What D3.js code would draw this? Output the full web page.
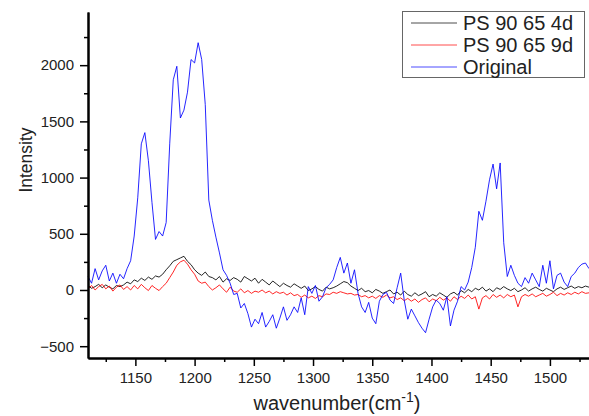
<!DOCTYPE html>
<html>
<head>
<meta charset="utf-8">
<script src="https://cdn.jsdelivr.net/npm/d3@7/dist/d3.min.js"></script>
<style>
  body { margin: 0; background: #fff; }
  text { font-family: "Liberation Sans", Arial, sans-serif; fill: #222; }
</style>
</head>
<body>
<div id="main"></div>
<script>
var outerWidth = 589;
var outerHeight = 416;

var marginLeft = 88;
var marginTop = 12;
var marginRight = 0;
var marginBottom = 58;

var innerWidth = outerWidth - marginLeft - marginRight;
var innerHeight = outerHeight - marginTop - marginBottom;

// wavenumber grid, 3 cm-1 apart
var wavenumbers = d3.range(1110, 1534, 3);

var seriesNames = ["PS 90 65 4d", "PS 90 65 9d", "Original"];
var seriesColors = ["#000000", "#ff0000", "#0000ff"];

var ps4d = [40, 15, 30, 50, 20, 45, 25, 10, 40, 30,
  45, 70, 55, 90, 75, 105, 85, 115, 95, 125,
  115, 140, 180, 215, 255, 270, 285, 300, 255, 225,
  180, 150, 130, 160, 120, 110, 90, 120, 70, 100,
  85, 110, 95, 70, 120, 100, 80, 105, 60, 95,
  70, 45, 80, 55, 30, 60, 40, 25, 55, 35,
  15, 35, -5, 10, 30, 5, -10, 25, 10, 20,
  35, 55, 75, 65, 35, 15, -5, 15, -15, -5,
  -25, 5, -10, -30, -15, 0, -35, -20, -45, -10,
  -40, -55, -25, -50, -35, -15, -60, -40, -55, -25,
  -45, -65, -35, -20, -45, -5, -25, 5, -15, 15,
  0, 25, -10, 10, -15, 20, 5, 30, 10, -5,
  15, -15, 0, 20, -10, 10, 25, 5, -10, 15,
  0, -15, 10, 25, 5, 20, 35, 15, 30, 20,
  35, 25];

var ps9d = [10, 40, 0, 30, 50, 10, 35, -10, 25, 45,
  5, 30, 0, 40, 10, 50, 20, -5, 40, 15,
  -5, 30, 60, 110, 160, 220, 250, 265, 230, 180,
  140, 80, 60, 70, 30, 0, 20, 45, 10, -20,
  25, -10, -20, 10, -25, -5, -30, -10, -20, 0,
  -25, -10, -35, -15, -30, -20, -45, -25, -50, -40,
  -65, -45, -70, -55, -75, -50, -60, -35, -40, -20,
  -30, -15, -25, -35, -30, -45, -40, -60, -50, -70,
  -55, -75, -50, -65, -45, -70, -60, -85, -70, -95,
  -75, -100, -80, -110, -85, -70, -105, -80, -95, -65,
  -90, -70, -100, -60, -85, -55, -75, -45, -80, -60,
  -170, -70, -50, -80, -40, -65, -45, -70, -40, -60,
  -45, -150, -60, -40, -55, -35, -60, -45, -30, -55,
  -40, -20, -50, -30, -45, -25, -40, -20, -35, -15,
  -30, -25];

var original = [120, 60, 190, 90, 170, 220, 80, 150, 60, 140,
  100, 190, 260, 480, 820, 1300, 1400, 1150, 780, 450,
  520, 480, 600, 1300, 1870, 1990, 1530, 1600, 1760, 2050,
  2020, 2200, 2050, 1650, 800, 620, 470, 330, 180, 130,
  60, -40, -30, -160, -120, -210, -330, -260, -300, -200,
  -330, -280, -220, -340, -250, -150, -270, -220, -150, -200,
  -70, -220, 30, -30, 40, -100, -60, 20, 50, 90,
  200, 290, 150, 240, 60, 180, -30, -150, -200, -110,
  -250, -300, -100, -40, -20, -90, -120, 20, 150, -90,
  -260, -170, -230, -290, -340, -380, -260, -150, -90, -120,
  -180, -60, -320, -180, -100, 30, 0, 70, 200, 380,
  700, 620, 790, 980, 1120, 900, 1130, 420, 120, 220,
  130, 60, 30, 110, 60, 150, 90, 30, 220, 60,
  260, 10, 130, 150, 70, 30, 120, 150, 200, 230,
  240, 190];

var allSeries = [ps4d, ps9d, original];

var yMajorTicks = [-500, 0, 500, 1000, 1500, 2000];
var yMinorTicks = [-250, 250, 750, 1250, 1750, 2250];
var xMajorTicks = [1150, 1200, 1250, 1300, 1350, 1400, 1450, 1500];
var xMinorTicks = [1125, 1175, 1225, 1275, 1325, 1375, 1425, 1475, 1525];

var xScale = d3.scaleLinear().domain([1110, 1533]).range([0, innerWidth]);
var yScale = d3.scaleLinear().domain([-605, 2473]).range([innerHeight, 0]);

var svg = d3.select("#main")
    .append("svg")
    .attr("width", outerWidth)
    .attr("height", outerHeight);

var g = svg.append("g")
    .attr("transform", "translate(" + marginLeft + "," + marginTop + ")");

var line = d3.line()
    .x((d, i) => xScale(wavenumbers[i]))
    .y(d => yScale(d));

allSeries.forEach(function(values, k) {
  g.append("path")
      .datum(values)
      .attr("fill", "none")
      .attr("stroke", seriesColors[k])
      .attr("stroke-width", 1)
      .attr("stroke-opacity", 0.85)
      .attr("d", line);
});

// minor ticks first, then major ticks with labels
g.append("g")
    .call(d3.axisLeft(yScale).tickValues(yMinorTicks).tickSize(4).tickSizeOuter(0).tickFormat(""));
var yAxisG = g.append("g")
    .call(d3.axisLeft(yScale).tickValues(yMajorTicks).tickSize(8).tickPadding(6)
      .tickSizeOuter(0).tickFormat(d3.format("d")));

var xBase = g.append("g").attr("transform", "translate(0," + innerHeight + ")");
xBase.append("g")
    .call(d3.axisBottom(xScale).tickValues(xMinorTicks).tickSize(4).tickSizeOuter(0).tickFormat(""));
var xAxisG = xBase.append("g")
    .call(d3.axisBottom(xScale).tickValues(xMajorTicks).tickSize(8).tickPadding(6)
      .tickSizeOuter(0).tickFormat(d3.format("d")));

svg.selectAll(".domain").attr("stroke", "#000").attr("stroke-width", 2);
svg.selectAll(".tick line").attr("stroke", "#000").attr("stroke-width", 1.5);
svg.selectAll(".tick text")
    .style("font-size", "15px")
    .style("font-family", '"Liberation Sans", Arial, sans-serif')
    .attr("fill", "#222");

// axis titles
var xTitle = svg.append("text")
    .attr("x", 337)
    .attr("y", 410)
    .attr("text-anchor", "middle")
    .style("font-size", "20px");
xTitle.append("tspan").text("wavenumber(cm");
xTitle.append("tspan").attr("dy", -8).style("font-size", "14px").text("-1");
xTitle.append("tspan").attr("dy", 8).text(")");

svg.append("text")
    .attr("transform", "translate(32,160) rotate(-90)")
    .attr("text-anchor", "middle")
    .style("font-size", "17.5px")
    .text("Intensity");

// legend
var legend = svg.append("g");
legend.append("rect")
    .attr("x", 402.5)
    .attr("y", 11.5)
    .attr("width", 182)
    .attr("height", 66)
    .attr("fill", "#fff")
    .attr("stroke", "#666")
    .attr("stroke-width", 1);

var legendRows = legend.selectAll(".row")
    .data(seriesNames)
    .enter()
    .append("g")
    .attr("class", "row")
    .attr("transform", (d, i) => "translate(0," + (23 + i * 22) + ")");

legendRows.append("line")
    .attr("x1", 411)
    .attr("x2", 457)
    .attr("stroke", (d, i) => seriesColors[i])
    .attr("stroke-opacity", 0.7)
    .attr("stroke-width", 1);

legendRows.append("text")
    .attr("x", 463)
    .attr("dy", "0.36em")
    .style("font-size", "20px")
    .text(d => d);
</script>
</body>
</html>
